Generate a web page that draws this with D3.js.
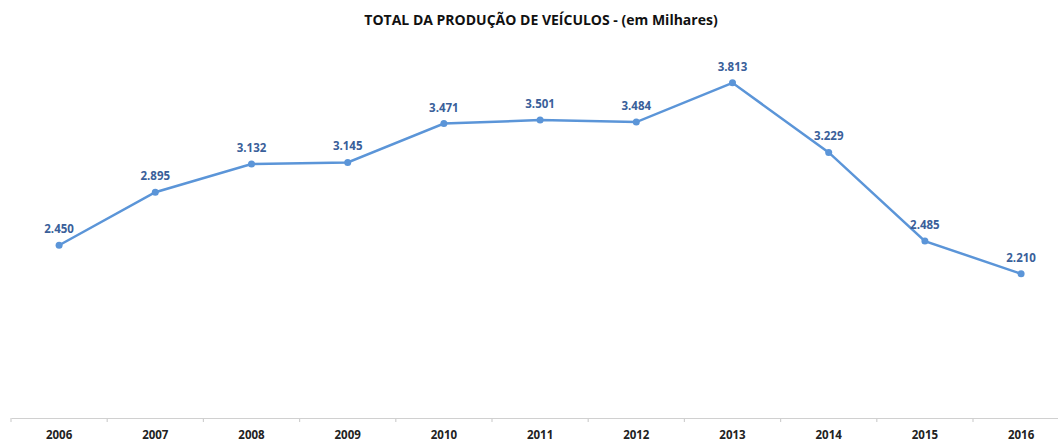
<!DOCTYPE html>
<html>
<head>
<meta charset="utf-8">
<script src="https://cdn.jsdelivr.net/npm/d3@7"></script>
<style>
  body { margin: 0; background: #fff; }
  svg { display: block; }
</style>
</head>
<body>
<div class="chart"></div>
<script>
const years = ['2006', '2007', '2008', '2009', '2010', '2011', '2012', '2013', '2014', '2015', '2016'];
const production = [2450, 2895, 3132, 3145, 3471, 3501, 3484, 3813, 3229, 2485, 2210];
const valueLabels = ['2.450', '2.895', '3.132', '3.145', '3.471', '3.501', '3.484', '3.813', '3.229', '2.485', '2.210'];

const width = 1058;
const height = 441;
const lineColor = '#5b95d8';
const labelColor = '#3a5f9a';

const svg = d3.select('.chart')
    .append('svg')
    .attr('width', width)
    .attr('height', height);

// band scale: each year gets ~96px, first band starts at x=11
const x = d3.scaleBand()
    .domain(years)
    .range([11, 11 + 96.2 * years.length])
    .padding(0);

const y = d3.scaleLinear()
    .domain([1000, 4500])
    .range([418, 1]);

// title
svg.append('text')
    .attr('x', 541)
    .attr('y', 25)
    .attr('text-anchor', 'middle')
    .attr('font-family', 'Open Sans, sans-serif')
    .attr('font-weight', 'bold')
    .attr('font-size', '14px')
    .attr('fill', '#111')
    .text('TOTAL DA PRODUÇÃO DE VEÍCULOS - (em Milhares)');

// x axis
const xAxis = svg.append('g')
    .attr('transform', 'translate(0,418)')
    .call(d3.axisBottom(x).tickSize(0).tickPadding(13));
xAxis.select('.domain').attr('stroke', '#d0d0d0').attr('stroke-width', 1.2);
xAxis.selectAll('text')
    .attr('font-family', 'Open Sans, sans-serif')
    .attr('font-weight', 'bold')
    .attr('font-size', '11.5px')
    .attr('fill', '#222');

// band dividers
svg.append('g')
    .selectAll('line')
    .data(years)
    .enter().append('line')
    .attr('x1', d => x(d))
    .attr('x2', d => x(d))
    .attr('y1', 418)
    .attr('y2', 422)
    .attr('stroke', '#d0d0d0')
    .attr('stroke-width', 1.2);

const cx = (d, i) => x(years[i]) + x.bandwidth() / 2;

// line
const line = d3.line()
    .x((d, i) => cx(d, i))
    .y(d => y(d));

svg.append('path')
    .datum(production)
    .attr('d', line)
    .attr('fill', 'none')
    .attr('stroke', lineColor)
    .attr('stroke-width', 2.5);

// points
svg.append('g')
    .selectAll('circle')
    .data(production)
    .enter().append('circle')
    .attr('cx', cx)
    .attr('cy', d => y(d))
    .attr('r', 3.5)
    .attr('fill', lineColor);

// value labels
svg.append('g')
    .selectAll('text')
    .data(production)
    .enter().append('text')
    .attr('x', cx)
    .attr('y', d => y(d) - 12)
    .attr('text-anchor', 'middle')
    .attr('font-family', 'Open Sans, sans-serif')
    .attr('font-weight', 'bold')
    .attr('font-size', '11.5px')
    .attr('fill', labelColor)
    .text((d, i) => valueLabels[i]);
</script>
</body>
</html>
